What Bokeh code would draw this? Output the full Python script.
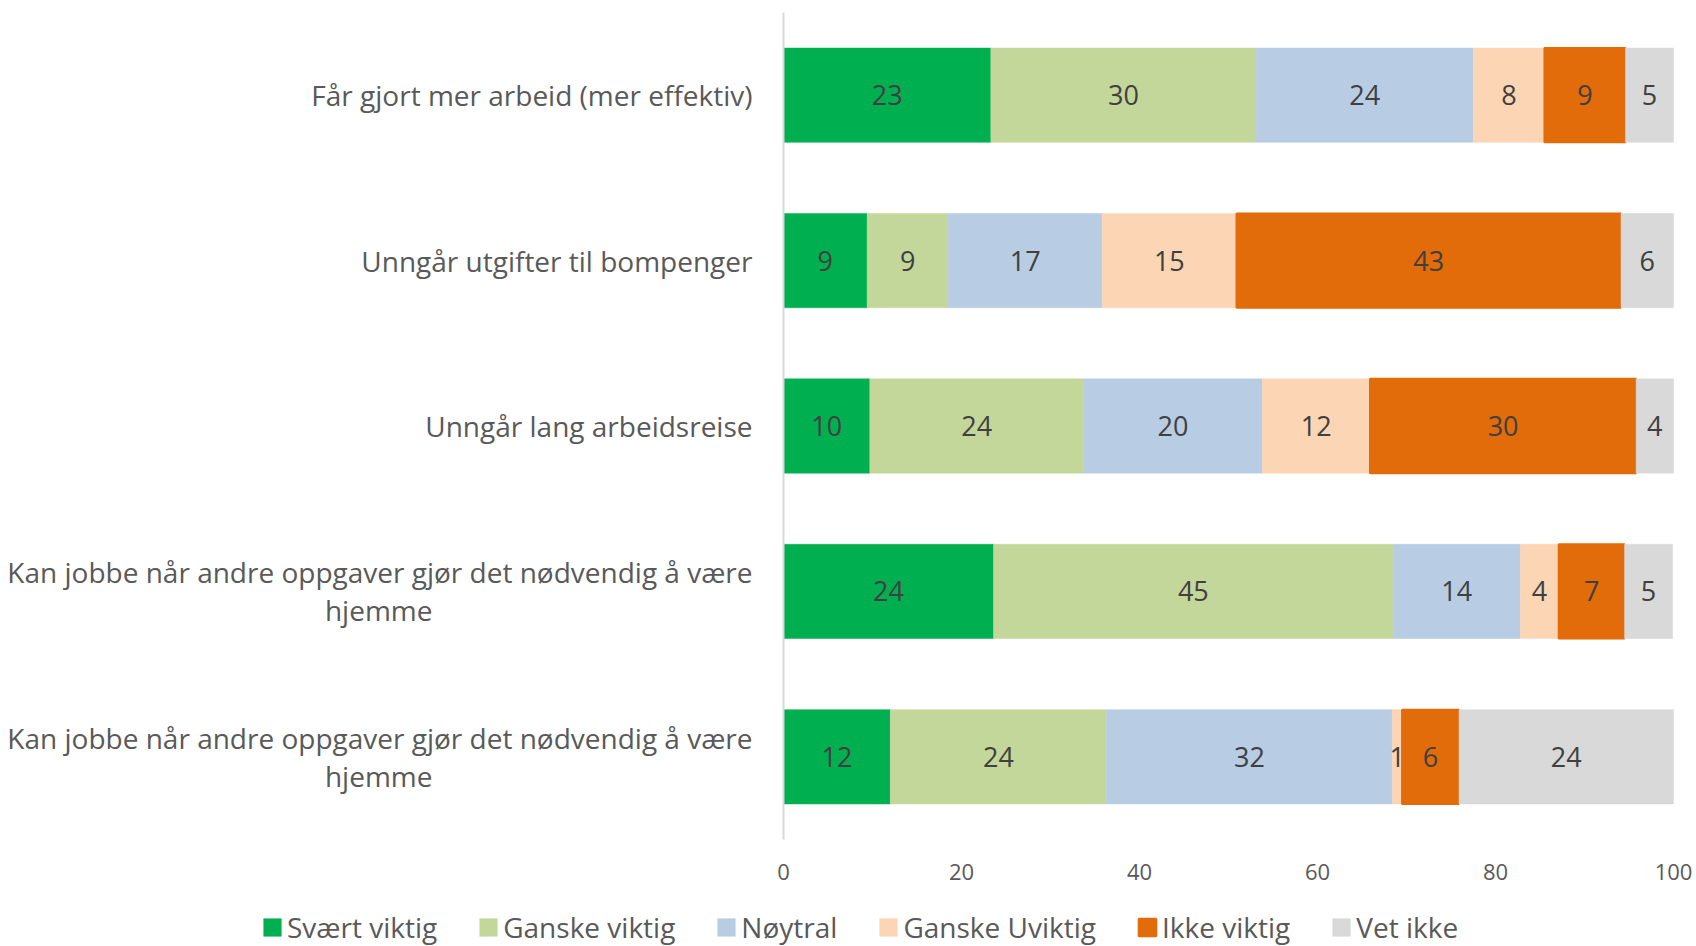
import numpy as np
from bokeh.plotting import figure
from bokeh.models import ColumnDataSource, Range1d, FixedTicker
from bokeh.core.properties import value
from bokeh.embed import file_html
from bokeh.resources import INLINE

# ---- data ----
row_labels = [
    "Får gjort mer arbeid (mer effektiv)",
    "Unngår utgifter til bompenger",
    "Unngår lang arbeidsreise",
    "Kan jobbe når andre oppgaver gjør det nødvendig å være\nhjemme",
    "Kan jobbe når andre oppgaver gjør det nødvendig å være\nhjemme",
]
series_names = ["Svært viktig", "Ganske viktig", "Nøytral", "Ganske Uviktig", "Ikke viktig", "Vet ikke"]
svaert_viktig = [23.3, 9.4, 9.7, 23.6, 12.0]
ganske_viktig = [29.8, 9.1, 24.0, 44.9, 24.3]
noytral = [24.4, 17.3, 20.1, 14.3, 32.1]
ganske_uviktig = [8.0, 15.1, 12.1, 4.3, 1.1]
ikke_viktig = [9.1, 43.2, 29.9, 7.4, 6.4]
vet_ikke = [5.4, 5.9, 4.2, 5.4, 24.1]
x_ticks = [0, 20, 40, 60, 80, 100]

colors = ["#00B050", "#C4D79B", "#B8CCE4", "#FCD5B4", "#E26B0A", "#D9D9D9"]

n = len(row_labels)
ypos = list(range(n))[::-1]          # first row on top
series = [svaert_viktig, ganske_viktig, noytral, ganske_uviktig, ikke_viktig, vet_ikke]
cols = ["s%d" % i for i in range(len(series))]
data = {"y": ypos}
for c, s in zip(cols, series):
    data[c] = s
source = ColumnDataSource(data)

# layout: plot frame spans the whole canvas; value axis 0..100 occupies px 783..1673
W, H = 1696, 946
px_left, px_right = 783, 1673
px_top, px_bottom = 12, 839
ux = (px_right - px_left) / 100.0
uy = (px_bottom - px_top) / n
x_range = Range1d(-px_left / ux, 100 + (W - px_right) / ux)
y_range = Range1d(-0.5 - (H - px_bottom) / uy, n - 0.5 + px_top / uy)

p = figure(
    width=W, height=H, x_range=x_range, y_range=y_range,
    output_backend="svg", toolbar_location=None,
    min_border_left=0, min_border_right=0, min_border_top=0, min_border_bottom=0,
)
p.outline_line_color = None
p.background_fill_color = "white"
p.border_fill_color = "white"
p.xgrid.visible = False
p.ygrid.visible = False

renderers = p.hbar_stack(cols, y="y", height=0.57, color=colors, source=source,
                         legend_label=series_names)
for r, c in zip(renderers, colors):
    r.glyph.line_color = c
    r.glyph.line_width = 2 if c == "#E26B0A" else 0.5

# data labels
arr = np.array(series)  # (6, 5)
cum = np.cumsum(arr, axis=0)
starts = cum - arr
lx, ly, lt = [], [], []
for i in range(arr.shape[0]):
    for j in range(arr.shape[1]):
        lx.append(starts[i, j] + arr[i, j] / 2)
        ly.append(ypos[j])
        lt.append(str(int(round(arr[i, j]))))
lsrc = ColumnDataSource(dict(x=lx, y=ly, t=lt))
p.text(x="x", y="y", text="t", source=lsrc, text_align="center", text_baseline="middle",
       text_font=value("Open Sans"), text_font_size="27px", text_color="#404040")

# x axis (value axis) placed just below the bars
p.xaxis.fixed_location = -0.5
p.xaxis.ticker = FixedTicker(ticks=x_ticks)
p.xaxis.axis_line_color = None
p.xaxis.major_tick_line_color = None
p.xaxis.minor_tick_line_color = None
p.xaxis.major_label_text_font = "Open Sans"
p.xaxis.major_label_text_font_size = "22px"
p.xaxis.major_label_text_color = "#595959"
p.xaxis.major_label_standoff = 18


# second lines of wrapped labels are centred under the first line (as in the original);
# pad them with no-break spaces so the right-aligned axis label shows them centred
def centre_wrapped(label, pad=44):
    parts = label.split("\n")
    if len(parts) == 2:
        return parts[0] + "\n" + parts[1] + "\u00a0" * pad
    return label


# y axis (categories) at x = 0
p.yaxis.fixed_location = 0
p.yaxis.bounds = (-0.5, n - 0.5)
p.yaxis.ticker = FixedTicker(ticks=ypos)
p.yaxis.major_label_overrides = {int(k): centre_wrapped(v) for k, v in zip(ypos, row_labels)}
p.yaxis.axis_line_color = "#D9D9D9"
p.yaxis.axis_line_width = 2
p.yaxis.major_tick_line_color = None
p.yaxis.minor_tick_line_color = None
p.yaxis.major_label_text_font = "Open Sans"
p.yaxis.major_label_text_font_size = "28px"
p.yaxis.major_label_text_color = "#595959"
p.yaxis.major_label_standoff = 25
p.yaxis.major_label_text_line_height = 1.0

# legend
lg = p.legend[0]
lg.orientation = "horizontal"
lg.location = (261, 0)
lg.border_line_color = None
lg.background_fill_alpha = 0
lg.padding = 0
lg.margin = 0
lg.spacing = 40
lg.glyph_width = 22
lg.glyph_height = 22
lg.label_standoff = 4
lg.label_text_font = "Open Sans"
lg.label_text_font_size = "28px"
lg.label_text_color = "#595959"

open("out.html", "w").write(file_html(p, INLINE))
